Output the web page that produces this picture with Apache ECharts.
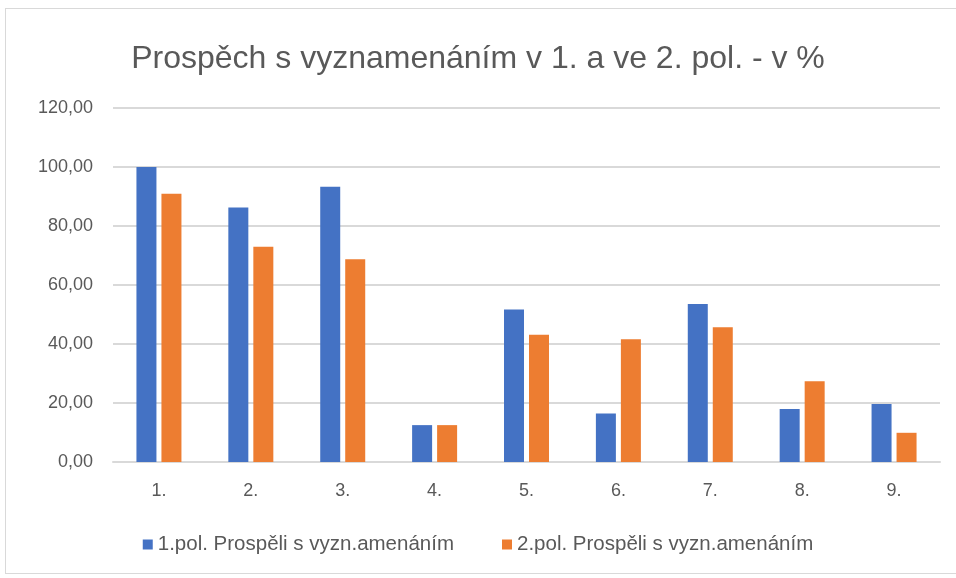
<!DOCTYPE html>
<html><head><meta charset="utf-8">
<script src="https://cdn.jsdelivr.net/npm/echarts@6/dist/echarts.min.js"></script>
<style>
html,body{margin:0;padding:0;background:#fff;}
#frame{position:absolute;left:5px;top:8px;width:960px;height:566px;border:1px solid #d9d9d9;box-sizing:border-box;}
#chart{position:absolute;left:0;top:0;width:956px;height:578px;}
</style></head>
<body>
<div id="frame"></div>
<div id="chart"></div>
<script>
const categories = ['1.', '2.', '3.', '4.', '5.', '6.', '7.', '8.', '9.'];
const series1Name = '1.pol. Prospěli s vyzn.amenáním';
const series2Name = '2.pol. Prospěli s vyzn.amenáním';
const series1 = [100.0, 86.3, 93.3, 12.5, 51.7, 16.4, 53.6, 18.0, 19.7];
const series2 = [90.9, 73.0, 68.7, 12.5, 43.1, 41.6, 45.7, 27.4, 9.9];
const titleText = 'Prospěch s vyznamenáním v 1. a ve 2. pol. - v %';

const FONT = 'Liberation Sans, sans-serif';
const chart = echarts.init(document.getElementById('chart'));
chart.setOption({
  animation: false,
  title: {
    text: titleText, left: 'center', top: 38,
    textStyle: {fontFamily: FONT, fontSize: 32, fontWeight: 'normal', color: '#595959'}
  },
  legend: {
    bottom: 18, left: 'center', itemWidth: 10, itemHeight: 10, itemGap: 48,
    icon: 'rect',
    textStyle: {fontFamily: FONT, fontSize: 20.5, color: '#595959'}
  },
  grid: {left: 113, right: 16, top: 108, bottom: 116, containLabel: false},
  xAxis: {
    type: 'category', data: categories,
    axisLine: {lineStyle: {color: '#d9d9d9', width: 2}},
    axisTick: {show: false},
    axisLabel: {fontFamily: FONT, fontSize: 18, color: '#595959', margin: 20}
  },
  yAxis: {
    type: 'value', min: 0, max: 120, interval: 20,
    axisLine: {show: false}, axisTick: {show: false},
    splitLine: {lineStyle: {color: '#d9d9d9', width: 2}},
    axisLabel: {fontFamily: FONT, fontSize: 18, color: '#595959', margin: 20,
      formatter: v => v.toFixed(2).replace('.', ',')}
  },
  series: [
    {name: series1Name, type: 'bar', data: series1, barWidth: 20, barGap: '25%', itemStyle: {color: '#4472c4'}},
    {name: series2Name, type: 'bar', data: series2, barWidth: 20, barGap: '25%', itemStyle: {color: '#ed7d31'}}
  ]
});
</script>
</body></html>
